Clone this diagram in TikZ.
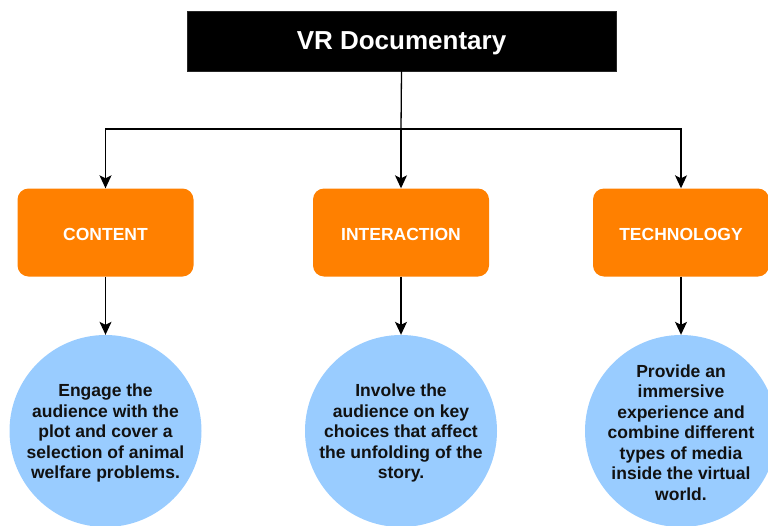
\documentclass[tikz,border=0pt]{standalone}
\usepackage{fontspec}
\setmainfont{Liberation Sans}
\usetikzlibrary{arrows.meta}
\definecolor{boxorange}{HTML}{FF8000}
\definecolor{bubbleblue}{HTML}{99CCFF}
\definecolor{inktext}{HTML}{111111}
\begin{document}
\begin{tikzpicture}[x=1pt,y=-1pt,
  titlebox/.style={rectangle,fill=black,draw=black!85,text=white,
    minimum width=429pt,minimum height=60pt,inner sep=0pt,
    font=\fontsize{26}{30}\selectfont\bfseries},
  areabox/.style={rectangle,rounded corners=11pt,fill=boxorange,text=white,
    minimum width=176pt,minimum height=88pt,inner sep=0pt,
    font=\fontsize{17.5}{20}\selectfont\bfseries},
  bubble/.style={circle,fill=bubbleblue,minimum size=192pt,inner sep=0pt},
  bubbletext/.style={align=center,text=inktext,inner sep=0pt,
    font=\fontsize{17.5}{20.5}\selectfont\bfseries},
  link/.style={draw=black,line width=1.3pt},
  arrow/.style={link,-{Stealth[length=13pt,width=12pt,inset=3pt]}}
]
\useasboundingbox (0,0) rectangle (768,525);

% top level
\node[titlebox] (title) at (401.5,41) {};
\node[text=white,font=\fontsize{26}{30}\selectfont\bfseries,inner sep=0pt]
  (titletext) at (401.5,43) {VR Documentary};

% second level
\node[areabox] (content) at (105.5,232.5) {};
\node[areabox] (inter)   at (401,232.5)   {};
\node[areabox] (tech)    at (681,232.5)   {};
\node[areabox,fill=none] (contentlabel) at (105.5,234) {CONTENT};
\node[areabox,fill=none] (interlabel)   at (401,234)   {INTERACTION};
\node[areabox,fill=none] (techlabel)    at (681,234)   {TECHNOLOGY};

% descriptions
\node[bubble] (c1) at (105.5,431) {};
\node[bubble] (c2) at (401,431) {};
\node[bubble] (c3) at (681,431) {};
\node[bubbletext] (t1) at (105.5,433) {Engage the\\audience with the\\plot and cover a\\selection of animal\\welfare problems.};
\node[bubbletext] (t2) at (401,433) {Involve the\\audience on key\\choices that affect\\the unfolding of the\\story.};
\node[bubbletext] (t3) at (681,432.5) {Provide an\\immersive\\experience and\\combine different\\types of media\\inside the virtual\\world.};

% connectors
\coordinate (hub) at (401,129);
\draw[link] (title.south) -- (hub);
\draw[arrow] (hub) -| (content.north);
\draw[arrow] (hub) -- (inter.north);
\draw[arrow] (hub) -| (tech.north);
\draw[arrow] (content.south) -- (c1.north);
\draw[arrow] (inter.south) -- (c2.north);
\draw[arrow] (tech.south) -- (c3.north);
\end{tikzpicture}
\end{document}
